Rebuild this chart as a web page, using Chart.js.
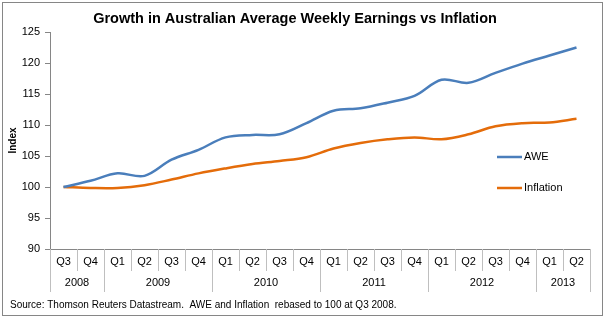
<!DOCTYPE html>
<html lang="en">
<head>
    <meta charset="UTF-8" />
    <title>Growth in Australian Average Weekly Earnings vs Inflation</title>
    <script src="https://cdn.jsdelivr.net/npm/chart.js"></script>
    <style>
        body {
            margin: 0;
            background: #fff;
        }

        #chart {
            display: block;
        }
    </style>
</head>
<body>
    <canvas id="chart" width="606" height="324"></canvas>

    <script>
        // quarters Q3 2008 .. Q2 2013
        const quarters = ['Q3', 'Q4', 'Q1', 'Q2', 'Q3', 'Q4', 'Q1', 'Q2', 'Q3', 'Q4',
                          'Q1', 'Q2', 'Q3', 'Q4', 'Q1', 'Q2', 'Q3', 'Q4', 'Q1', 'Q2'];
        const years = ['2008', '2009', '2010', '2011', '2012', '2013'];
        const quartersPerYear = [2, 4, 4, 4, 4, 2];

        const awe = [100, 101.0, 102.2, 101.8, 104.4, 106.0, 108.0, 108.4, 108.5, 110.3,
                     112.3, 112.7, 113.6, 114.7, 117.3, 116.8, 118.4, 119.9, 121.2, 122.5];
        const inflation = [100, 99.85, 99.85, 100.3, 101.2, 102.2, 103.0, 103.7, 104.2, 104.8,
                           106.2, 107.1, 107.7, 108.0, 107.7, 108.5, 109.8, 110.3, 110.4, 111.0];

        const yTicks = [90, 95, 100, 105, 110, 115, 120, 125];
        const sourceNote = 'Source: Thomson Reuters Datastream.  AWE and Inflation  rebased to 100 at Q3 2008.';

        const axisGrey = '#868686';
        const sepGrey = '#bfbfbf';

        Chart.defaults.font.family = '"Liberation Sans", Arial, sans-serif';
        Chart.defaults.color = '#000';

        // year row, separators, legend, source note and frame (Excel look)
        const excelBits = {
            id: 'excelBits',
            afterDraw(chart) {
                const ctx = chart.ctx;
                const x = chart.scales.x;
                const area = chart.chartArea;
                const step = x.getPixelForValue(1) - x.getPixelForValue(0);
                const edge = i => x.getPixelForValue(i) - step / 2;

                ctx.save();
                ctx.lineWidth = 1;

                // boundaries between quarters / years
                const yearEdges = [0];
                quartersPerYear.forEach(n => yearEdges.push(yearEdges[yearEdges.length - 1] + n));
                for (let i = 0; i <= quarters.length; i++) {
                    const px = Math.round(edge(i)) + 0.5;
                    const long = yearEdges.includes(i);
                    ctx.strokeStyle = sepGrey;
                    ctx.beginPath();
                    ctx.moveTo(px, area.bottom);
                    ctx.lineTo(px, area.bottom + (long ? 43 : 22));
                    ctx.stroke();
                }

                // year labels
                ctx.fillStyle = '#000';
                ctx.font = '11px "Liberation Sans", Arial, sans-serif';
                ctx.textAlign = 'center';
                ctx.textBaseline = 'middle';
                years.forEach((yr, k) => {
                    const cx = (edge(yearEdges[k]) + edge(yearEdges[k + 1])) / 2;
                    ctx.fillText(yr, cx, area.bottom + 34);
                });

                // legend
                ctx.textAlign = 'left';
                chart.data.datasets.forEach((ds, k) => {
                    const ly = 157 + k * 31;
                    ctx.strokeStyle = ds.borderColor;
                    ctx.lineWidth = 2.5;
                    ctx.beginPath();
                    ctx.moveTo(497, ly);
                    ctx.lineTo(522, ly);
                    ctx.stroke();
                    ctx.fillText(ds.label, 524, ly);
                });

                // source note
                ctx.font = '10px "Liberation Sans", Arial, sans-serif';
                ctx.fillText(sourceNote, 10, 305);

                // frame
                ctx.strokeStyle = axisGrey;
                ctx.lineWidth = 1;
                ctx.strokeRect(2.5, 2.5, 600, 313);
                ctx.restore();
            }
        };

        new Chart(document.getElementById('chart'), {
            type: 'line',
            data: {
                labels: quarters,
                datasets: [{
                    label: 'AWE',
                    data: awe,
                    borderColor: '#4A7EBB',
                    borderWidth: 2.5,
                    pointRadius: 0,
                    tension: 0.35
                }, {
                    label: 'Inflation',
                    data: inflation,
                    borderColor: '#E46C0A',
                    borderWidth: 2.5,
                    pointRadius: 0,
                    tension: 0.35
                }]
            },
            options: {
                responsive: false,
                animation: false,
                layout: { padding: { left: 0, right: 16, top: 0, bottom: 0 } },
                plugins: {
                    legend: { display: false },
                    tooltip: { enabled: false },
                    title: {
                        display: true,
                        text: 'Growth in Australian Average Weekly Earnings vs Inflation',
                        color: '#000',
                        font: { size: 14.5, weight: 'bold' },
                        padding: { top: 10, bottom: 4.6 }
                    }
                },
                scales: {
                    x: {
                        offset: true,
                        grid: { display: false, drawTicks: false },
                        border: { display: true, color: axisGrey },
                        ticks: { font: { size: 11 }, padding: 6, maxRotation: 0, autoSkip: false },
                        afterFit(scale) { scale.height = 75; }
                    },
                    y: {
                        min: 90,
                        max: 125,
                        afterBuildTicks(scale) { scale.ticks = yTicks.map(v => ({ value: v })); },
                        grid: { drawOnChartArea: false, drawTicks: true, tickLength: 5, color: axisGrey },
                        border: { display: true, color: axisGrey },
                        ticks: { font: { size: 11 }, padding: 5 },
                        title: {
                            display: true,
                            text: 'Index',
                            font: { size: 10, weight: 'bold' },
                            padding: { top: 7, bottom: 0 }
                        },
                        afterFit(scale) { scale.width = 50; }
                    }
                }
            },
            plugins: [excelBits]
        });
    </script>
</body>
</html>
